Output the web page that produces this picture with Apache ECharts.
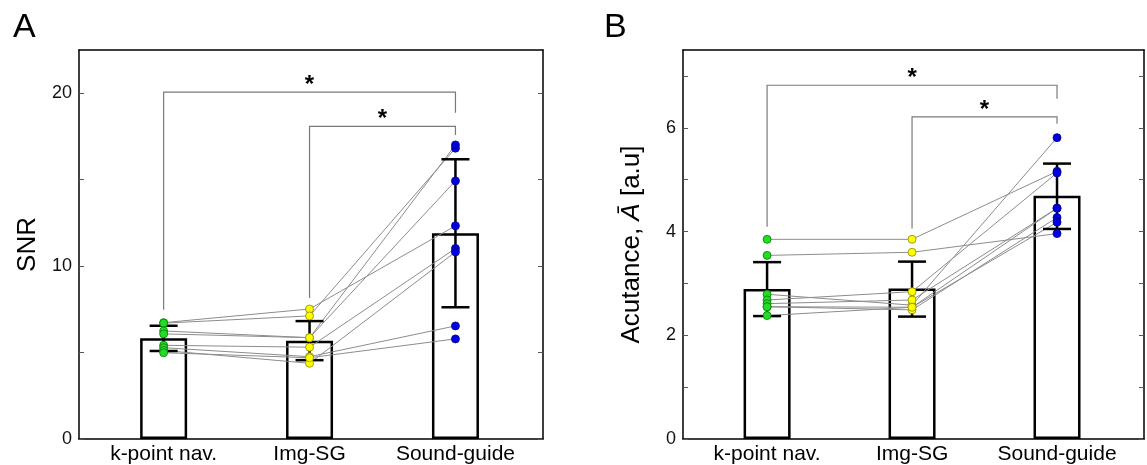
<!DOCTYPE html>
<html>
<head>
<meta charset="utf-8">
<script src="https://cdn.jsdelivr.net/npm/echarts@6/dist/echarts.min.js"></script>
<style>
    html, body { margin: 0; padding: 0; background: #fff; }
    #chart { width: 1147px; height: 465px; }
</style>
</head>
<body>
<div id="chart"></div>
<script>
// groups along the x axis
const categories = ['k-point nav.', 'Img-SG', 'Sound-guide']
const positions = [1, 2, 3]

// panel A: SNR
const snrMean = [5.83, 5.69, 11.9]
const snrErrLow = [5.09, 4.56, 7.62]
const snrErrHigh = [6.55, 6.82, 16.18]
// one row per subject: [k-point nav., Img-SG, Sound-guide]
const snrSubjects = [
    [6.73, 7.52, 12.33],
    [6.70, 7.12, 16.82],
    [6.25, 5.86, 14.93],
    [6.08, 5.86, 17.01],
    [5.42, 5.31, 11.02],
    [5.28, 4.76, 6.54],
    [5.12, 4.38, 10.82],
    [4.99, 4.70, 5.79]
]
const snrTicks = [0, 5, 10, 15, 20]
const snrTickLabels = [0, 10, 20]
// significance brackets: [from, to, left end, right end, top]
const snrBrackets = [
    [1, 3, 7.47, 18.87, 20.06],
    [2, 3, 8.16, 17.59, 18.08]
]

// panel B: acutance
const acuMean = [2.89, 2.90, 4.69]
const acuErrLow = [2.37, 2.36, 4.05]
const acuErrHigh = [3.41, 3.42, 5.31]
const acuSubjects = [
    [3.85, 3.85, 5.16],
    [3.54, 3.60, 3.96],
    [2.79, 2.58, 5.81],
    [2.68, 2.84, 5.13],
    [2.61, 2.68, 4.45],
    [2.55, 2.54, 4.45],
    [2.55, 2.49, 4.27],
    [2.38, 2.54, 4.18]
]
const acuTicks = [0, 1, 2, 3, 4, 5, 6, 7]
const acuTickLabels = [0, 2, 4, 6]
const acuBrackets = [
    [1, 3, 4.09, 6.56, 6.82],
    [2, 3, 4.06, 6.08, 6.21]
]

const font = "'Liberation Sans', Arial, sans-serif"
const pointColors = [
    { color: '#22dd22', borderColor: '#0b7a0b' },
    { color: '#ffff00', borderColor: '#8a8a00' },
    { color: '#0000e0', borderColor: '#00008c' }
]

const chart = echarts.init(document.getElementById('chart'))

const makeAxes = (idx, max, ticks, tickLabels, name) => {
    const x = [
        {
            type: 'value', gridIndex: idx, min: 0.42, max: 3.6, position: 'bottom',
            axisLine: { show: true, onZero: false, lineStyle: { color: '#000', width: 1.5 } },
            axisTick: { show: true, inside: true, length: 5, customValues: positions, lineStyle: { color: '#555' } },
            axisLabel: {
                show: true, customValues: positions, margin: 5,
                fontSize: 21, fontFamily: font, color: '#000',
                formatter: v => categories[Math.round(v) - 1]
            },
            splitLine: { show: false }
        },
        {
            type: 'value', gridIndex: idx, min: 0.42, max: 3.6, position: 'top',
            axisLine: { show: true, onZero: false, lineStyle: { color: '#000', width: 1.5 } },
            axisTick: { show: false }, axisLabel: { show: false }, splitLine: { show: false }
        }
    ]
    const y = [
        {
            type: 'value', gridIndex: idx, min: 0, max: max, position: 'left',
            name: name, nameLocation: 'middle', nameRotate: 90, nameGap: 38,
            nameTextStyle: {
                fontSize: 26, fontFamily: font, color: '#000',
                rich: {
                    n: { fontSize: 26, fontFamily: font, color: '#000' },
                    i: { fontSize: 26, fontFamily: font, color: '#000', fontStyle: 'italic' }
                }
            },
            axisLine: { show: true, onZero: false, lineStyle: { color: '#000', width: 1.5 } },
            axisTick: { show: true, inside: true, length: 5, customValues: ticks, lineStyle: { color: '#555' } },
            axisLabel: { show: true, customValues: tickLabels, margin: 7, fontSize: 18, fontFamily: font, color: '#111' },
            splitLine: { show: false }
        },
        {
            type: 'value', gridIndex: idx, min: 0, max: max, position: 'right',
            axisLine: { show: true, onZero: false, lineStyle: { color: '#000', width: 1.5 } },
            axisTick: { show: true, inside: true, length: 5, customValues: ticks, lineStyle: { color: '#555' } },
            axisLabel: { show: false }, splitLine: { show: false }
        }
    ]
    return { x, y }
}

const errorBarItem = (params, api) => {
    const x = api.value(0)
    const lo = api.coord([x, api.value(1)])
    const hi = api.coord([x, api.value(2)])
    const half = 14
    const style = { stroke: '#000', lineWidth: 2.5 }
    return {
        type: 'group',
        children: [
            { type: 'line', shape: { x1: lo[0], y1: lo[1], x2: hi[0], y2: hi[1] }, style },
            { type: 'line', shape: { x1: lo[0] - half, y1: lo[1], x2: lo[0] + half, y2: lo[1] }, style },
            { type: 'line', shape: { x1: hi[0] - half, y1: hi[1], x2: hi[0] + half, y2: hi[1] }, style }
        ]
    }
}

const bracketItem = (params, api) => {
    const a = api.coord([api.value(0), api.value(2)])
    const b = api.coord([api.value(1), api.value(3)])
    const top = api.coord([api.value(0), api.value(4)])[1]
    return {
        type: 'group',
        children: [
            {
                type: 'polyline',
                shape: { points: [[a[0], a[1]], [a[0], top], [b[0], top], [b[0], b[1]]] },
                style: { stroke: '#7a7a7a', lineWidth: 1.2, fill: null }
            },
            {
                type: 'text', x: (a[0] + b[0]) / 2, y: top - 7,
                style: { text: '*', fontSize: 24, fontWeight: 'bold', fontFamily: font, fill: '#000', textAlign: 'center', textVerticalAlign: 'middle' }
            }
        ]
    }
}

const makeSeries = (idx, mean, lo, hi, subjects, brackets) => {
    const xi = idx * 2
    const yi = idx * 2
    const list = []
    list.push({
        type: 'bar', xAxisIndex: xi, yAxisIndex: yi, barWidth: 47, z: 1, silent: true,
        itemStyle: { color: '#fff', borderColor: '#000', borderWidth: 2.5 },
        data: positions.map((p, i) => [p, mean[i]])
    })
    subjects.forEach(s => {
        list.push({
            type: 'line', xAxisIndex: xi, yAxisIndex: yi, z: 3, silent: true,
            symbol: 'none', lineStyle: { color: '#8c8c8c', width: 1 },
            data: positions.map((p, i) => [p, s[i]])
        })
    })
    list.push({
        type: 'custom', xAxisIndex: xi, yAxisIndex: yi, z: 4, silent: true, clip: false,
        renderItem: errorBarItem,
        data: positions.map((p, i) => [p, lo[i], hi[i]])
    })
    positions.forEach((p, g) => {
        list.push({
            type: 'scatter', xAxisIndex: xi, yAxisIndex: yi, z: 5, silent: true,
            symbolSize: 8,
            itemStyle: { color: pointColors[g].color, borderColor: pointColors[g].borderColor, borderWidth: 0.8, opacity: 1 },
            data: subjects.map(s => [p, s[g]])
        })
    })
    list.push({
        type: 'custom', xAxisIndex: xi, yAxisIndex: yi, z: 2, silent: true, clip: false,
        renderItem: bracketItem,
        data: brackets
    })
    return list
}

const axesA = makeAxes(0, 22.5, snrTicks, snrTickLabels, 'SNR')
const axesB = makeAxes(1, 7.5, acuTicks, acuTickLabels, '{n|Acutance, }{i|Ā}{n| [a.u]}')

chart.setOption({
    animation: false,
    grid: [
        { left: 79, right: 604, top: 50, bottom: 26 },
        { left: 683, right: 3, top: 50, bottom: 26 }
    ],
    xAxis: [...axesA.x, ...axesB.x],
    yAxis: [...axesA.y, ...axesB.y],
    graphic: [
        { type: 'text', left: 13, top: 11, style: { text: 'A', fontSize: 34, fontFamily: font, fill: '#000' } },
        { type: 'text', left: 604, top: 11, style: { text: 'B', fontSize: 34, fontFamily: font, fill: '#000' } }
    ],
    series: [
        ...makeSeries(0, snrMean, snrErrLow, snrErrHigh, snrSubjects, snrBrackets),
        ...makeSeries(1, acuMean, acuErrLow, acuErrHigh, acuSubjects, acuBrackets)
    ]
})
</script>
</body>
</html>
